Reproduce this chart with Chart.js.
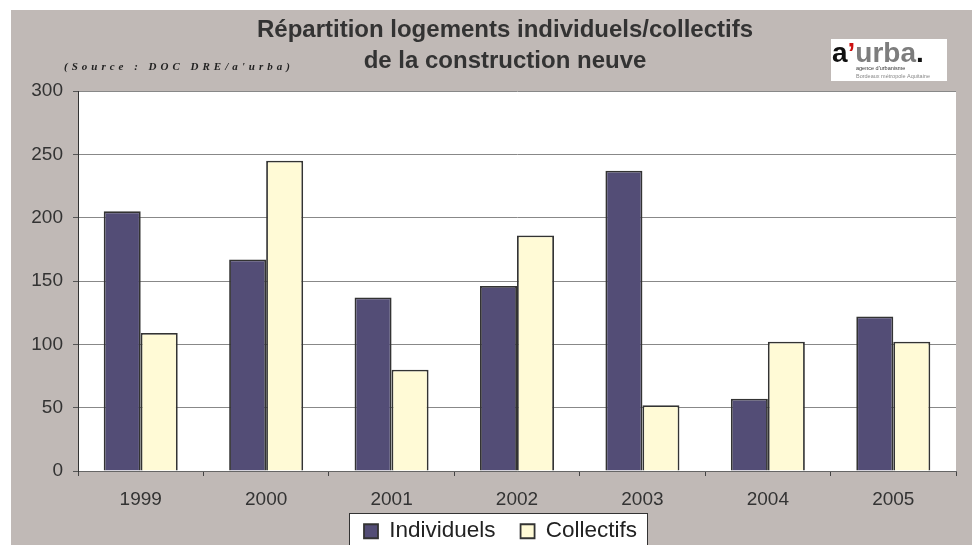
<!DOCTYPE html>
<html><head><meta charset="utf-8">
<script src="https://cdn.jsdelivr.net/npm/chart.js@4.4.1/dist/chart.umd.min.js"></script>
<style>html,body{margin:0;padding:0;background:#fff;overflow:hidden}canvas{display:block}</style>
</head><body>
<canvas id="c" width="972" height="545"></canvas>
<script>
// ---- data ----
const years = ['1999', '2000', '2001', '2002', '2003', '2004', '2005'];
const individuels = [205, 167, 137, 146, 237, 57, 122];
const collectifs = [109, 245, 80, 186, 52, 102, 102];
const yTickValues = [0, 50, 100, 150, 200, 250, 300];
const seriesNames = ['Individuels', 'Collectifs'];
const titleLines = ['Répartition logements individuels/collectifs', 'de la construction neuve'];
const sourceText = "(Source : DOC DRE/a'urba)";
const logoSub1 = "agence d'urbanisme";
const logoSub2 = 'Bordeaux métropole Aquitaine';

const FONT = "'Liberation Sans', Arial, Helvetica, sans-serif";

const decor = {
  id: 'decor',
  afterLayout(chart) {
    const lg = chart.legend;
    const w = lg.width;
    lg.left = 339; lg.right = lg.left + w;
    lg.top = 495; lg.bottom = chart.height; lg.height = lg.bottom - lg.top;
    const t = chart.titleBlock;
    t.left = 54; t.right = 956; t.width = t.right - t.left;
  },
  beforeDraw(chart) {
    const ctx = chart.ctx;
    ctx.save();
    ctx.fillStyle = '#ffffff';
    ctx.fillRect(0, 0, chart.width, chart.height);
    ctx.fillStyle = '#C0B9B6';
    ctx.fillRect(11, 10, chart.width - 11, chart.height - 10);
    const a = chart.chartArea;
    ctx.fillStyle = '#ffffff';
    ctx.fillRect(a.left, a.top, a.right - a.left, a.bottom - a.top);
    const hb = chart.legend.legendHitBoxes;
    if (hb && hb.length) {
      const last = hb[hb.length - 1];
      const l = Math.round(hb[0].left - 15), r = Math.round(last.left + last.width + 10);
      ctx.fillStyle = '#ffffff';
      ctx.fillRect(l, 513, r - l, 40);
      ctx.strokeStyle = '#333333';
      ctx.lineWidth = 1;
      ctx.strokeRect(l + 0.5, 513.5, r - l, 40);
    }
    ctx.restore();
  },
  afterDraw(chart) {
    const ctx = chart.ctx;
    ctx.save();
    // source
    ctx.fillStyle = '#222';
    ctx.font = "italic bold 11px 'Liberation Serif', 'Times New Roman', serif";
    ctx.textBaseline = 'middle';
    ctx.textAlign = 'left';
    try { ctx.letterSpacing = '4px'; } catch (e) {}
    ctx.fillText(sourceText, 64, 67);
    try { ctx.letterSpacing = '0px'; } catch (e) {}
    // logo
    ctx.fillStyle = '#ffffff';
    ctx.fillRect(831, 39, 116, 42);
    ctx.textBaseline = 'alphabetic';
    ctx.font = "bold 28px " + FONT;
    let x = 832;
    const parts = [['a', '#111'], ['\u2019', '#cc1111'], ['urba', '#7d7d7d'], ['.', '#111']];
    for (const [s, c] of parts) {
      ctx.fillStyle = c;
      ctx.fillText(s, x, 62);
      x += ctx.measureText(s).width;
    }
    ctx.font = "5.5px " + FONT;
    ctx.fillStyle = '#333';
    ctx.fillText(logoSub1, 856, 70);
    ctx.fillStyle = '#888';
    ctx.fillText(logoSub2, 856, 78);
    ctx.restore();
  }
};

new Chart(document.getElementById('c'), {
  type: 'bar',
  data: {
    labels: years,
    datasets: [
      { label: seriesNames[0], data: individuels, backgroundColor: '#534D76', borderColor: '#333333', borderWidth: 1.8 },
      { label: seriesNames[1], data: collectifs, backgroundColor: '#FFFAD6', borderColor: '#333333', borderWidth: 1.8 }
    ]
  },
  options: {
    responsive: false,
    animation: false,
    events: [],
    layout: { padding: { left: 0, right: 16, top: 0, bottom: 0 } },
    datasets: { bar: { categoryPercentage: 0.59, barPercentage: 1.0 } },
    scales: {
      x: {
        offset: true,
        grid: { display: true, offset: true, drawOnChartArea: false, drawTicks: true, tickLength: 5, tickColor: '#444', color: '#444' },
        border: { display: true, color: '#666', width: 1 },
        ticks: { color: '#333', font: { family: FONT, size: 19 }, padding: 12, maxRotation: 0, autoSkip: false },
        afterFit(scale) { scale.height = 56; }
      },
      y: {
        min: 0, max: 300,
        afterBuildTicks(scale) { scale.ticks = yTickValues.map(v => ({ value: v })); },
        grid: { color: '#888', lineWidth: 1, drawTicks: true, tickLength: 5, tickColor: '#555' },
        border: { display: true, color: '#333', width: 1 },
        ticks: { color: '#333', font: { family: FONT, size: 19 }, padding: 10 },
        afterFit(scale) { scale.width = 78; }
      }
    },
    plugins: {
      title: {
        display: true,
        text: titleLines,
        color: '#333',
        font: { family: FONT, size: 24, weight: 'bold', lineHeight: '31px' },
        padding: { top: 14.5, bottom: 14.5 }
      },
      legend: {
        display: true,
        position: 'bottom',
        align: 'start',
        maxHeight: 18,
        labels: {
          color: '#222',
          font: { family: FONT, size: 22.5 },
          boxWidth: 14,
          boxHeight: 14,
          padding: 25
        }
      },
      tooltip: { enabled: false }
    }
  },
  plugins: [decor]
});
</script>
</body></html>
